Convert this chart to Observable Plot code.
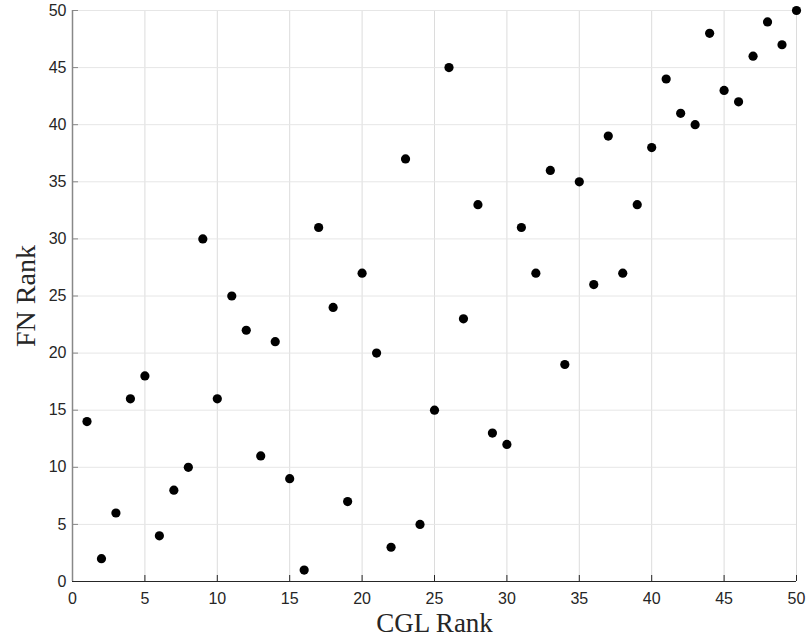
<!DOCTYPE html>
<html>
<head>
<meta charset="utf-8">
<script src="https://cdn.jsdelivr.net/npm/d3@7"></script>
<script src="https://cdn.jsdelivr.net/npm/@observablehq/plot@0.6"></script>
<style>
  html, body { margin: 0; padding: 0; background: #fff; }
  #chart { position: relative; width: 807px; height: 637px; }
</style>
</head>
<body>
<div id="chart"></div>
<script>
const cglRank = [1,2,3,4,5,6,7,8,9,10,11,12,13,14,15,16,17,18,19,20,21,22,23,24,25,26,27,28,29,30,31,32,33,34,35,36,37,38,39,40,41,42,43,44,45,46,47,48,49,50];
const fnRank  = [14,2,6,16,18,4,8,10,30,16,25,22,11,21,9,1,31,24,7,27,20,3,37,5,15,45,23,33,13,12,31,27,36,19,35,26,39,27,33,38,44,41,40,48,43,42,46,49,47,50];
const tickValues = [0,5,10,15,20,25,30,35,40,45,50];
const xLabel = "CGL Rank";
const yLabel = "FN Rank";

const data = cglRank.map((x, i) => ({x, y: fnRank[i]}));

const chart = Plot.plot({
  width: 807,
  height: 637,
  marginLeft: 72,
  marginRight: 11,
  marginTop: 10,
  marginBottom: 56,
  style: {fontFamily: "Liberation Sans, Arial, sans-serif", fontSize: "16px", color: "#262626", background: "#fff"},
  x: {domain: [0, 50], ticks: tickValues, label: null},
  y: {domain: [0, 50], ticks: tickValues, label: null},
  marks: [
    Plot.gridX(tickValues.slice(1), {stroke: "#dcdcdc", strokeOpacity: 1, strokeWidth: 1}),
    Plot.gridY(tickValues.slice(1), {stroke: "#e6e6e6", strokeOpacity: 1, strokeWidth: 1}),
    Plot.axisX(tickValues, {tickSize: -6, tickPadding: 17, stroke: "#262626", fill: "#262626", fontSize: 16}),
    Plot.axisY(tickValues, {tickSize: -6, tickPadding: 12, stroke: "#888", fill: "#262626", fontSize: 16}),
    Plot.ruleY([0], {stroke: "#262626", strokeWidth: 1}),
    Plot.ruleX([0], {stroke: "#888", strokeWidth: 1.5}),
    Plot.dot(data, {x: "x", y: "y", r: 4.6, fill: "#000", stroke: "none"}),
    Plot.text([xLabel], {frameAnchor: "bottom", lineAnchor: "middle", dy: 42, text: d => d, fontFamily: "Liberation Serif, DejaVu Serif, serif", fontSize: 27, fill: "#262626"}),
    Plot.text([yLabel], {frameAnchor: "left", textAnchor: "middle", lineAnchor: "middle", dx: -46, rotate: -90, text: d => d, fontFamily: "Liberation Serif, DejaVu Serif, serif", fontSize: 28, fill: "#262626"})
  ]
});
document.getElementById("chart").appendChild(chart);
</script>
</body>
</html>
